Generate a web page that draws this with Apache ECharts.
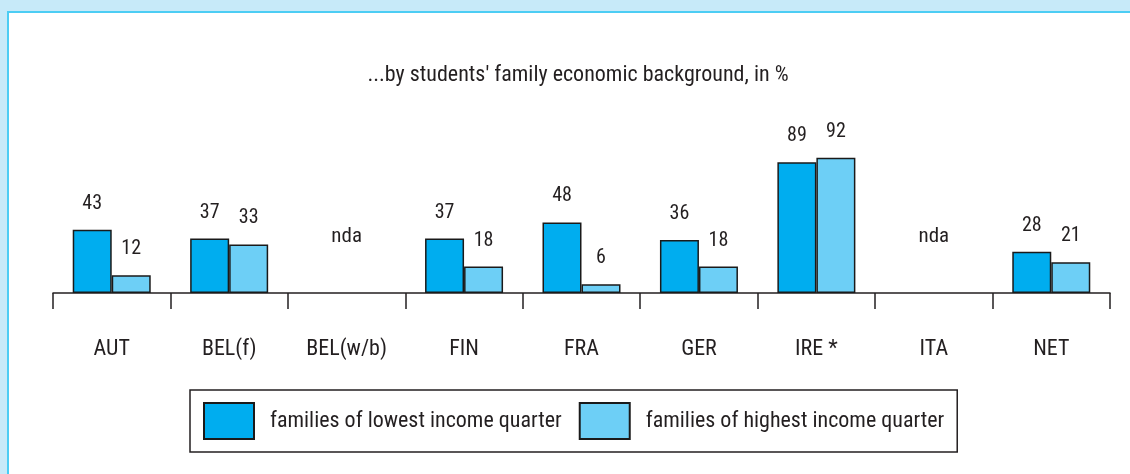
<!DOCTYPE html>
<html>
<head>
<meta charset="utf-8">
<script src="https://cdn.jsdelivr.net/npm/echarts@6/dist/echarts.min.js"></script>
<style>
  html, body { margin: 0; padding: 0; }
  #main { width: 1130px; height: 474px; }
</style>
</head>
<body>
<div id="main"></div>
<script>
var countries = ["AUT", "BEL(f)", "BEL(w/b)", "FIN", "FRA", "GER", "IRE *", "ITA", "NET"];
var lowestQuarter = [43, 37, null, 37, 48, 36, 89, null, 28];
var highestQuarter = [12, 33, null, 18, 6, 18, 92, null, 21];
var seriesNames = ["families of lowest income quarter", "families of highest income quarter"];
var titleText = "...by students' family economic background, in %";

var font = "'Roboto Condensed', 'DejaVu Sans Condensed', 'Liberation Sans Narrow', Roboto, sans-serif";
var textColor = "#231f20";
var ndaLevel = 38; // where the "nda" note sits, in axis units

// categories without any data get an "nda" note
var ndaPoints = [];
for (var i = 0; i < countries.length; i++) {
  if (lowestQuarter[i] == null && highestQuarter[i] == null) {
    ndaPoints.push([countries[i], ndaLevel]);
  }
}

var barLabel = {
  show: true,
  position: "top",
  distance: 16,
  fontFamily: font,
  fontSize: 20,
  color: textColor
};

var myChart = echarts.init(document.getElementById("main"));
var option = {
  animation: false,
  backgroundColor: "#c7eaf9",
  graphic: [
    { type: "rect", z: 0, shape: { x: 7, y: 11, width: 1130, height: 474 }, style: { fill: "#4ccdf4" } },
    { type: "rect", z: 0, shape: { x: 9, y: 13, width: 1130, height: 474 }, style: { fill: "#ffffff" } }
  ],
  title: {
    text: titleText,
    left: 573,
    top: 59,
    textAlign: "center",
    textStyle: { fontFamily: font, fontSize: 22, fontWeight: "normal", color: textColor }
  },
  legend: {
    data: seriesNames,
    icon: "rect",
    left: 190,
    top: 390,
    orient: "horizontal",
    itemWidth: 50,
    itemHeight: 36,
    itemGap: 17,
    padding: [12, 13, 12, 13],
    borderColor: "#231f20",
    borderWidth: 1.5,
    borderRadius: 0,
    backgroundColor: "#ffffff",
    selectedMode: false,
    textStyle: {
      fontFamily: font,
      fontSize: 22,
      color: textColor,
      padding: [2, 0, 0, 11]
    }
  },
  grid: { left: 53, right: 20, top: 146, bottom: 181 },
  xAxis: {
    type: "category",
    data: countries,
    axisLine: { show: true, lineStyle: { color: "#231f20", width: 1.5 } },
    axisTick: { show: true, length: 16, lineStyle: { color: "#231f20", width: 1.5 } },
    axisLabel: { interval: 0, margin: 45, fontFamily: font, fontSize: 22, color: textColor }
  },
  yAxis: {
    type: "value",
    min: 0,
    max: 100,
    show: false
  },
  series: [
    {
      name: seriesNames[0],
      type: "bar",
      data: lowestQuarter,
      barWidth: 39,
      barGap: "0%",
      itemStyle: { color: "#00adef", borderColor: "#1a1a1a", borderWidth: 1.5 },
      label: barLabel
    },
    {
      name: seriesNames[1],
      type: "bar",
      data: highestQuarter,
      barWidth: 39,
      barGap: "0%",
      itemStyle: { color: "#6dcff6", borderColor: "#1a1a1a", borderWidth: 1.5 },
      label: barLabel
    },
    {
      name: "nda",
      type: "scatter",
      data: ndaPoints,
      symbolSize: 1,
      itemStyle: { color: "rgba(0,0,0,0)", opacity: 1 },
      label: {
        show: true,
        position: "inside",
        formatter: "nda",
        fontFamily: font,
        fontSize: 21,
        color: textColor
      }
    }
  ]
};
myChart.setOption(option);
</script>
</body>
</html>
